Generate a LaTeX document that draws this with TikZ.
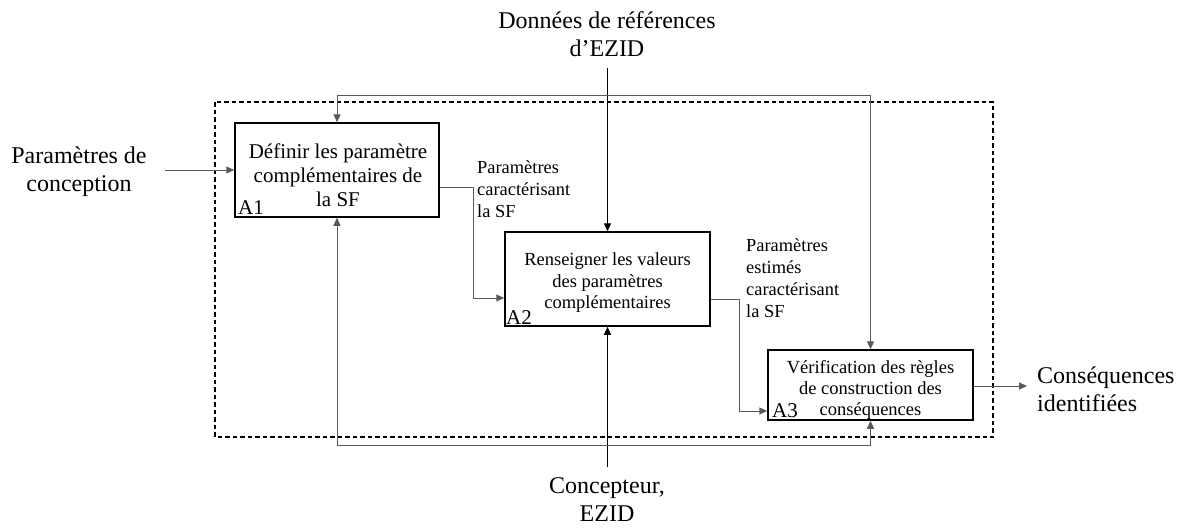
\documentclass[tikz,border=0pt]{standalone}
\usepackage{fontspec}
\setmainfont{Liberation Serif}
\usetikzlibrary{arrows.meta,calc}
\begin{document}
\begin{tikzpicture}[x=1pt,y=-1pt,
  boxA/.style={draw=black,line width=1.5pt,inner sep=0pt},
  btxt/.style={align=center,inner sep=0pt},
  conn/.style={draw=black!65,line width=1pt},
  arr/.style={conn,-{Triangle[length=8pt,width=7pt]}},
  darr/.style={conn,{Triangle[length=8pt,width=7pt]}-{Triangle[length=8pt,width=7pt]}},
  outer/.style={font=\fontsize{24}{28}\selectfont,align=center,inner sep=0pt},
  lbl/.style={font=\fontsize{18.4}{22}\selectfont,align=left,inner sep=0pt,anchor=west},
  tag/.style={font=\fontsize{21}{24}\selectfont,inner sep=0pt,anchor=south west}]
\useasboundingbox (0,0) rectangle (1184,528);
% dashed boundary
\draw[black,line width=1.2pt,dash pattern=on 4.5pt off 3pt] (215,102) rectangle (993,437);
% boxes
\node[boxA,minimum width=204pt,minimum height=94pt] (A1) at (337,170) {};
\node[boxA,minimum width=205pt,minimum height=94pt] (A2) at (607.5,279) {};
\node[boxA,minimum width=205pt,minimum height=70pt] (A3) at (870.5,385) {};
\node[btxt,font=\fontsize{21}{24}\selectfont] (A1t) at (338,175) {Définir les paramètre\\complémentaires de\\la SF};
\node[btxt,font=\fontsize{18.5}{21.5}\selectfont] (A2t) at (607.5,283) {Renseigner les valeurs\\des paramètres\\complémentaires};
\node[btxt,font=\fontsize{18.5}{21}\selectfont] (A3t) at (870.5,390) {Vérification des règles\\de construction des\\conséquences};
\node[tag] (t1) at (238,215) {A1};
\node[tag] (t2) at (506,325) {A2};
\node[tag] (t3) at (772,418) {A3};
% outer labels
\node[outer] (inp) at (79,172) {Paramètres de\\conception};
\node[outer] (ctl) at (607,34) {Données de références\\d’EZID};
\node[outer] (mec) at (607,500) {Concepteur,\\EZID};
\node[outer,anchor=west,align=left] (outp) at (1037,389) {Conséquences\\identifiées};
% internal labels
\node[lbl] (l1) at (477,189) {Paramètres\\caractérisant\\la SF};
\node[lbl] (l2) at (746,278) {Paramètres\\estimés\\caractérisant\\la SF};
% coordinates
\coordinate (inS) at (165,170);
\coordinate (ctlS) at (607.5,68);
\coordinate (mecS) at (607.5,467);
\coordinate (outE) at (1027,386);
% connectors
\draw[arr] (inS) -- (A1.west);
\draw[arr,draw=black] (ctlS) -- (A2.north);
\draw[arr,draw=black] (mecS) -- (A2.south);
\draw[darr] (A1.north) -- (A1.north |- 0,95) -| (A3.north);
\draw[darr] (A1.south) -- (A1.south |- 0,445) -| (A3.south);
\draw[arr] (A1.east |- 0,187) -- (473,187) |- (A2.west |- 0,298);
\draw[arr] (A2.east |- 0,299) -- (739,299) |- (A3.west |- 0,411);
\draw[arr] (A3.east |- 0,386) -- (outE);
\end{tikzpicture}
\end{document}
